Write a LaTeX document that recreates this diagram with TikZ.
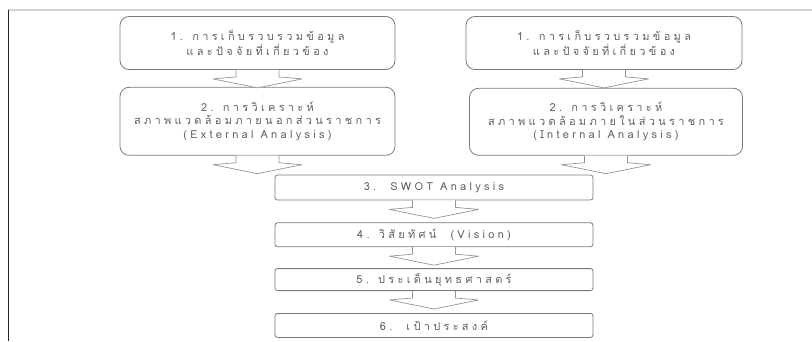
\documentclass[tikz,border=0pt]{standalone}
\usepackage{fontspec}
\setmainfont[Script=Thai,LetterSpace=30]{Loma}
\usepackage{xcolor}
\usetikzlibrary{positioning, calc}

\definecolor{boxline}{HTML}{7A7A7A}
\definecolor{boxtext}{HTML}{606060}

% block arrow from one box down towards the next
\newcommand{\flowarrow}[2]{%
  \draw [blockarrow] ($(#1.south)+(-21.5,0)$) -- ($(#1.south)+(-21.5,-7)$)
    -- ($(#1.south)+(-44.5,-9)$) -- ($(#1.south)!18pt!(#1.south |- #2.north)$)
    -- ($(#1.south)+(44.5,-9)$) -- ($(#1.south)+(21.5,-7)$) -- ($(#1.south)+(21.5,0)$);}

\begin{document}
\begin{tikzpicture}[x=1pt, y=1pt]
\tikzstyle{bigbox} = [rectangle, draw=boxline, line width=0.8pt, rounded corners=9pt, text=boxtext, align=center, font=\fontsize{11}{13.5}\selectfont, inner sep=2pt]
\tikzstyle{flatbox} = [rectangle, draw=boxline, line width=0.8pt, rounded corners=2.5pt, text=boxtext, minimum width=318pt, minimum height=24pt, align=center, font=\fontsize{11}{13.5}\selectfont, inner sep=2pt]
\tikzstyle{blockarrow} = [draw=boxline!80, line width=0.7pt, fill=white, line join=round]

\useasboundingbox (0,0) rectangle (812,341);
\draw [gray!35, line width=2pt] (8,331) -- (812,331);
\draw [black!85, line width=0.8pt] (8,331) -- (8,0);

\node (collectL) [bigbox, minimum width=275pt, minimum height=53pt] at (257.5,298) {1. การเก็บรวบรวมข้อมูล\\และปัจจัยที่เกี่ยวข้อง};
\node (collectR) [bigbox, minimum width=276pt, minimum height=53pt] at (604,298) {1. การเก็บรวบรวมข้อมูล\\และปัจจัยที่เกี่ยวข้อง};
\node (external) [bigbox, minimum width=275pt, minimum height=68pt, below=17pt of collectL] {2. การวิเคราะห์\\สภาพแวดล้อมภายนอกส่วนราชการ\\(External Analysis)};
\node (internal) [bigbox, minimum width=273pt, minimum height=67pt, below=18pt of collectR, xshift=2pt] {2. การวิเคราะห์\\สภาพแวดล้อมภายในส่วนราชการ\\(Internal Analysis)};

\node (swot) [flatbox, minimum height=25pt] at (434,153.5) {3.\ \ SWOT Analysis};
\node (vision) [flatbox, below=22pt of swot] {4. วิสัยทัศน์\ \ (Vision)};
\node (issue) [flatbox, minimum height=22pt, below=21pt of vision] {5. ประเด็นยุทธศาสตร์};
\node (goal) [flatbox, below=22pt of issue] {6.\ \ เป้าประสงค์};

\flowarrow{collectL}{external}
\flowarrow{collectR}{internal}
\flowarrow{external}{swot}
\flowarrow{internal}{swot}
\flowarrow{swot}{vision}
\flowarrow{vision}{issue}
\flowarrow{issue}{goal}

\end{tikzpicture}
\end{document}
